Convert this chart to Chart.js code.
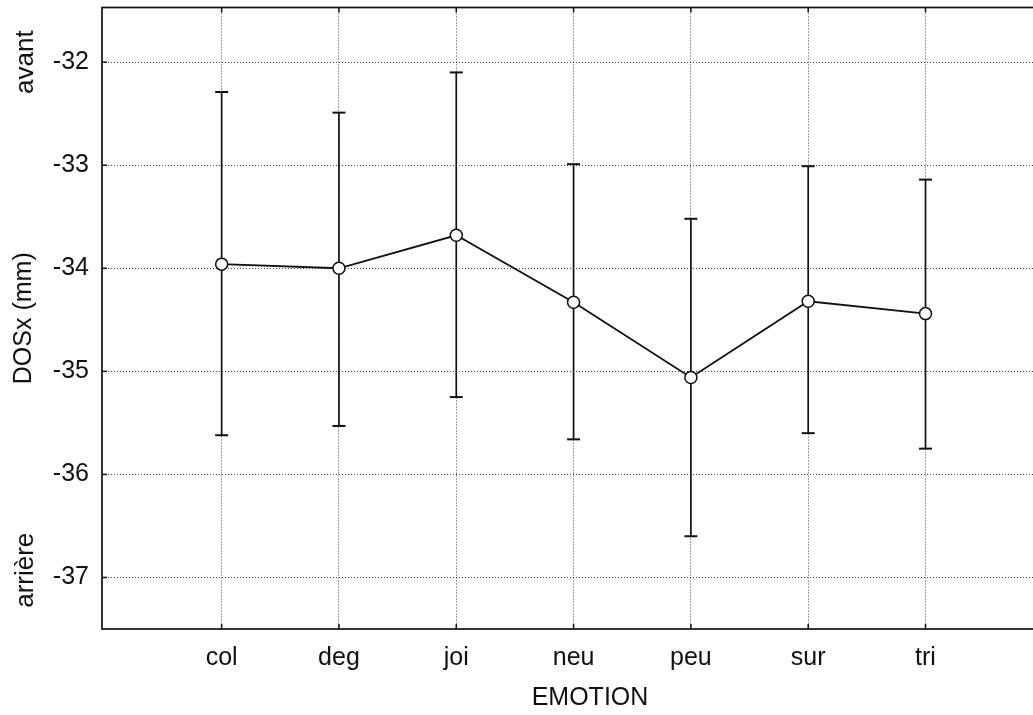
<!DOCTYPE html>
<html><head><meta charset="utf-8">
<script src="https://cdn.jsdelivr.net/npm/chart.js@4/dist/chart.umd.min.js"></script>
<style>html,body{margin:0;padding:0;background:#fff;overflow:hidden;width:1033px;height:715px}#wrap{width:1090px;height:715px}</style>
</head><body><div id="wrap"><canvas id="c" width="1090" height="715"></canvas></div>
<script>
const categories = ['col', 'deg', 'joi', 'neu', 'peu', 'sur', 'tri'];
const means = [-33.96, -34.00, -33.68, -34.33, -35.06, -34.32, -34.44];
const upper = [-32.29, -32.49, -32.10, -32.99, -33.52, -33.01, -33.14];
const lower = [-35.62, -35.53, -35.25, -35.66, -36.60, -35.60, -35.75];
const yTicks = [-37, -36, -35, -34, -33, -32];
const yTickLabels = ['-37', '-36', '-35', '-34', '-33', '-32'];
const sideLabels = ['avant', 'arrière'];
const sideLabelValues = [-32, -36.93];
const xTitle = 'EMOTION';
const yTitle = 'DOSx (mm)';

const FONT = '"Liberation Sans", Arial, sans-serif';
const INK = '#111';

const framePlugin = {
  id: 'frame',
  beforeDatasetsDraw(chart) {
    const {ctx, chartArea: a, scales: {x, y}} = chart;
    ctx.save();
    ctx.setLineDash([]);
    ctx.strokeStyle = INK;
    ctx.lineWidth = 1.7;
    ctx.strokeRect(a.left, a.top, a.right - a.left, a.bottom - a.top);
    ctx.lineWidth = 1.5;
    yTicks.forEach(v => {
      const py = y.getPixelForValue(v);
      ctx.beginPath(); ctx.moveTo(a.left, py); ctx.lineTo(a.left + 5, py); ctx.stroke();
    });
    categories.forEach((c, i) => {
      const px = x.getPixelForValue(i + 1);
      ctx.beginPath(); ctx.moveTo(px, a.bottom); ctx.lineTo(px, a.bottom - 5); ctx.stroke();
      ctx.beginPath(); ctx.moveTo(px, a.top); ctx.lineTo(px, a.top + 5); ctx.stroke();
    });
    for (let i = 0; i < means.length; i++) {
      const px = x.getPixelForValue(i + 1);
      const pt = y.getPixelForValue(upper[i]);
      const pb = y.getPixelForValue(lower[i]);
      ctx.lineWidth = 1.7;
      ctx.beginPath(); ctx.moveTo(px, pt); ctx.lineTo(px, pb); ctx.stroke();
      ctx.lineWidth = 2;
      ctx.beginPath(); ctx.moveTo(px - 6.5, pt); ctx.lineTo(px + 6.5, pt); ctx.stroke();
      ctx.beginPath(); ctx.moveTo(px - 6.5, pb); ctx.lineTo(px + 6.5, pb); ctx.stroke();
    }
    ctx.restore();
  },
  afterDraw(chart) {
    const {ctx, scales: {y}} = chart;
    ctx.save();
    ctx.fillStyle = INK;
    ctx.font = '26px ' + FONT;
    ctx.textAlign = 'center';
    ctx.textBaseline = 'middle';
    sideLabels.forEach((t, i) => {
      const py = y.getPixelForValue(sideLabelValues[i]);
      ctx.save();
      ctx.translate(26, py);
      ctx.rotate(-Math.PI / 2);
      ctx.fillText(t, 0, 0);
      ctx.restore();
    });
    ctx.restore();
  }
};

new Chart(document.getElementById('c'), {
  type: 'line',
  data: {
    datasets: [{
      data: means.map((m, i) => ({x: i + 1, y: m})),
      borderColor: INK,
      borderWidth: 1.8,
      pointRadius: 6,
      pointBackgroundColor: '#fff',
      pointBorderColor: INK,
      pointBorderWidth: 1.5,
      tension: 0,
      fill: false
    }]
  },
  options: {
    responsive: false,
    animation: false,
    devicePixelRatio: 1,
    layout: {padding: {top: 7, left: 0, right: 12, bottom: 0}},
    plugins: {legend: {display: false}, tooltip: {enabled: false}},
    scales: {
      x: {
        type: 'linear',
        min: -0.02,
        max: 8.30,
        afterFit(s) { s.height = 86; s.paddingLeft = 0; s.paddingRight = 0; },
        afterBuildTicks(s) { s.ticks = categories.map((c, i) => ({value: i + 1})); },
        ticks: {
          callback: v => categories[v - 1] || '',
          color: INK,
          font: {family: FONT, size: 25},
          padding: 14,
          maxRotation: 0,
          autoSkip: false
        },
        grid: {color: '#444', lineWidth: 1, drawTicks: false},
        border: {display: false, dash: [1, 2]},
        title: {display: true, text: xTitle, color: INK, font: {family: FONT, size: 25}, padding: {top: 0, bottom: 2}}
      },
      y: {
        type: 'linear',
        min: -37.5,
        max: -31.47,
        afterFit(s) { s.width = 102; s.paddingTop = 0; s.paddingBottom = 0; },
        afterBuildTicks(s) { s.ticks = yTicks.map(v => ({value: v})); },
        ticks: {
          callback: v => yTickLabels[yTicks.indexOf(v)],
          color: INK,
          font: {family: FONT, size: 25},
          padding: 13
        },
        grid: {color: '#444', lineWidth: 1, drawTicks: false},
        border: {display: false, dash: [1, 2]},
        title: {display: true, text: yTitle, color: INK, font: {family: FONT, size: 25}, padding: {top: 9, bottom: 0}}
      }
    }
  },
  plugins: [framePlugin]
});
</script>
</body></html>
